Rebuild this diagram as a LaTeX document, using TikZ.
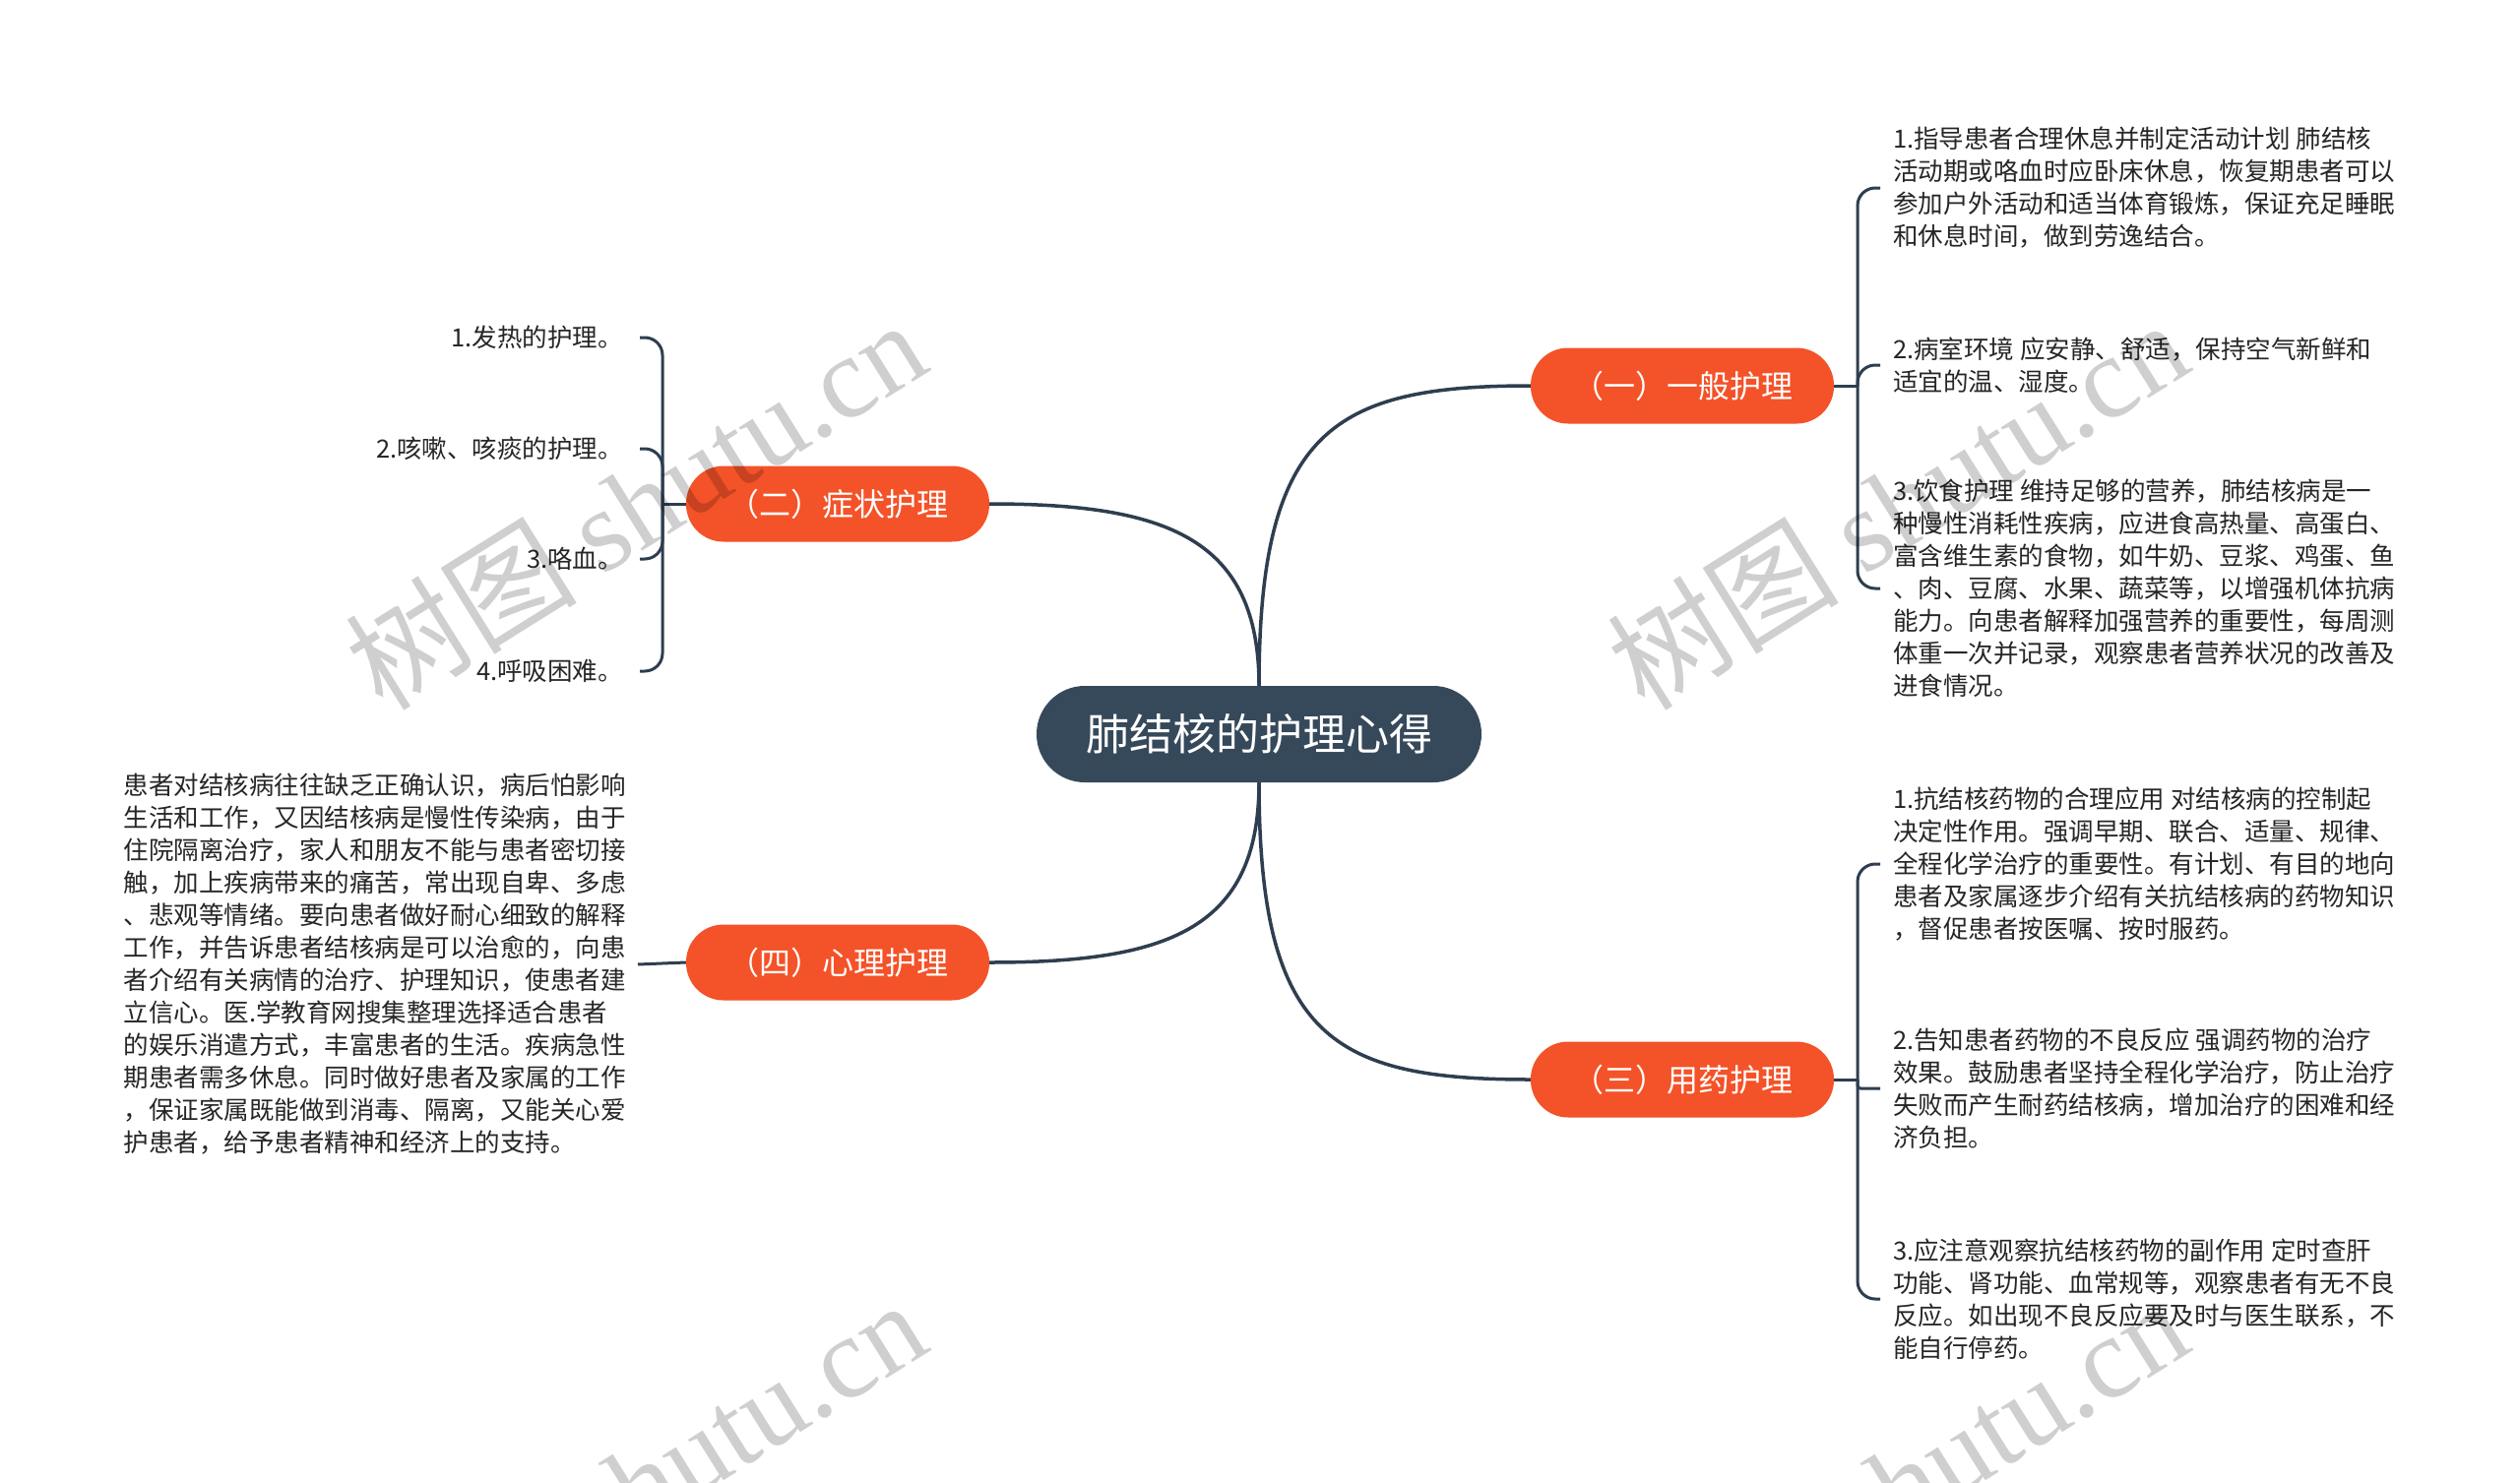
\documentclass[tikz,border=0pt]{standalone}
\usepackage{fontspec}
\setmainfont{Noto Sans CJK SC}
\newfontfamily\wmlatin{Liberation Serif}
\definecolor{orangeN}{RGB}{244,82,40}
\definecolor{darkN}{RGB}{54,73,91}
\definecolor{lineN}{RGB}{46,62,80}
\definecolor{textN}{RGB}{38,38,38}
\begin{document}
\begin{tikzpicture}[x=1pt,y=-1pt,
  central/.style={fill=darkN, text=white, rounded corners=49pt, minimum width=452pt, minimum height=98pt, inner sep=0pt, font=\fontsize{44}{50}\selectfont},
  branch/.style={fill=orangeN, text=white, rounded corners=38pt, minimum width=308pt, minimum height=77pt, inner sep=0pt, font=\fontsize{32}{38}\selectfont},
  rleaf/.style={anchor=west, align=left, text=textN, inner xsep=13pt, inner ysep=0pt, font=\fontsize{25.5}{33}\selectfont},
  lleaf/.style={anchor=east, align=right, text=textN, inner xsep=17pt, inner ysep=0pt, font=\fontsize{25.5}{33}\selectfont},
  para/.style={anchor=east, align=left, text=textN, inner xsep=12pt, inner ysep=0pt, font=\fontsize{25.5}{33}\selectfont},
  link/.style={draw=lineN, line width=3.5pt},
  brace/.style={draw=lineN, line width=3pt, rounded corners=18pt},
  wm/.style={text=black, text opacity=0.19, inner sep=0pt, font=\fontsize{118}{118}\selectfont}
]
\useasboundingbox[fill=white] (0,0) rectangle (2560,1507);

% main nodes
\node[central] (c) at (1279,746) {肺结核的护理心得};
\node[branch] (n1) at (1709,392) {（一）一般护理};
\node[branch] (n2) at (851,512) {（二）症状护理};
\node[branch] (n3) at (1709,1097) {（三）用药护理};
\node[branch] (n4) at (851,978) {（四）心理护理};

% main connectors
\draw[link] (c.north) .. controls +(0,-260) and +(-200,0) .. (n1.west);
\draw[link] (c.north) .. controls +(0,-150) and +(180,0) .. (n2.east);
\draw[link] (c.south) .. controls +(0,260) and +(-200,0) .. (n3.west);
\draw[link] (c.south) .. controls +(0,150) and +(180,0) .. (n4.east);

% (一) children
\node[rleaf] (a1) at (1910,191) {1.指导患者合理休息并制定活动计划 肺结核\\活动期或咯血时应卧床休息，恢复期患者可以\\参加户外活动和适当体育锻炼，保证充足睡眠\\和休息时间，做到劳逸结合。};
\node[rleaf] (a2) at (1910,371) {2.病室环境 应安静、舒适，保持空气新鲜和\\适宜的温、湿度。};
\node[rleaf] (a3) at (1910,598) {3.饮食护理 维持足够的营养，肺结核病是一\\种慢性消耗性疾病，应进食高热量、高蛋白、\\富含维生素的食物，如牛奶、豆浆、鸡蛋、鱼\\、肉、豆腐、水果、蔬菜等，以增强机体抗病\\能力。向患者解释加强营养的重要性，每周测\\体重一次并记录，观察患者营养状况的改善及\\进食情况。};
\coordinate (j1) at (1887,392);
\draw[link, line width=3pt] (n1.east) -- (j1);
\draw[brace] (j1) |- (a1.west);
\draw[brace] (j1) |- (a2.west);
\draw[brace] (j1) |- (a3.west);

% (三) children
\node[rleaf] (b1) at (1910,878) {1.抗结核药物的合理应用 对结核病的控制起\\决定性作用。强调早期、联合、适量、规律、\\全程化学治疗的重要性。有计划、有目的地向\\患者及家属逐步介绍有关抗结核病的药物知识\\，督促患者按医嘱、按时服药。};
\node[rleaf] (b2) at (1910,1106) {2.告知患者药物的不良反应 强调药物的治疗\\效果。鼓励患者坚持全程化学治疗，防止治疗\\失败而产生耐药结核病，增加治疗的困难和经\\济负担。};
\node[rleaf] (b3) at (1910,1320) {3.应注意观察抗结核药物的副作用 定时查肝\\功能、肾功能、血常规等，观察患者有无不良\\反应。如出现不良反应要及时与医生联系，不\\能自行停药。};
\coordinate (j3) at (1887,1097);
\draw[link, line width=3pt] (n3.east) -- (j3);
\draw[brace] (j3) |- (b1.west);
\draw[brace, rounded corners=3pt] (j3) |- (b2.west);
\draw[brace] (j3) |- (b3.west);

% (二) children
\node[lleaf] (s1) at (650,343) {1.发热的护理。};
\node[lleaf] (s2) at (650,456) {2.咳嗽、咳痰的护理。};
\node[lleaf] (s3) at (650,568) {3.咯血。};
\node[lleaf] (s4) at (650,682) {4.呼吸困难。};
\coordinate (j2) at (673,512);
\draw[link, line width=3pt] (n2.west) -- (j2);
\draw[brace] (j2) |- (s1.east);
\draw[brace] (j2) |- (s2.east);
\draw[brace] (j2) |- (s3.east);
\draw[brace] (j2) |- (s4.east);

% (四) child
\node[para] (p1) at (648,980) {患者对结核病往往缺乏正确认识，病后怕影响\\生活和工作，又因结核病是慢性传染病，由于\\住院隔离治疗，家人和朋友不能与患者密切接\\触，加上疾病带来的痛苦，常出现自卑、多虑\\、悲观等情绪。要向患者做好耐心细致的解释\\工作，并告诉患者结核病是可以治愈的，向患\\者介绍有关病情的治疗、护理知识，使患者建\\立信心。医.学教育网搜集整理选择适合患者\\的娱乐消遣方式，丰富患者的生活。疾病急性\\期患者需多休息。同时做好患者及家属的工作\\，保证家属既能做到消毒、隔离，又能关心爱\\护患者，给予患者精神和经济上的支持。};
\draw[link, line width=3pt] (n4.west) -- (p1.east);

% watermarks
\begin{scope}
\clip (0,0) rectangle (2560,1507);
\node[wm, rotate=32] (wm1) at (645,512) {树图 {\wmlatin shutu.cn}};
\node[wm, rotate=32] (wm2) at (1927,512) {树图 {\wmlatin shutu.cn}};
\node[wm, rotate=32] (wm3) at (645,1508) {树图 {\wmlatin shutu.cn}};
\node[wm, rotate=32] (wm4) at (1927,1508) {树图 {\wmlatin shutu.cn}};
\end{scope}
\end{tikzpicture}
\end{document}
